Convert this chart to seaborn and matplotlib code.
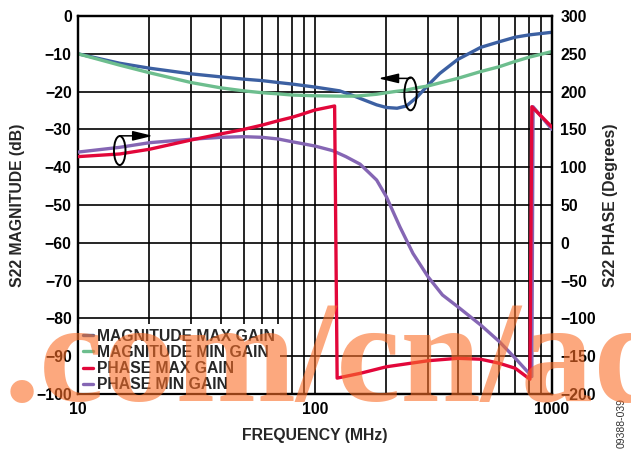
import numpy as np
import pandas as pd
import matplotlib
matplotlib.use("Agg")
import matplotlib.pyplot as plt
import seaborn as sns
from matplotlib.patches import Ellipse
from matplotlib.font_manager import FontProperties
from matplotlib.ticker import FixedLocator, FixedFormatter, NullFormatter

# ---- S22 magnitude (dB) vs frequency (MHz)
mag_freq = [10, 15, 20, 30, 40, 50, 60, 70, 80, 100, 127, 144, 155, 182, 200,
            222, 243, 269, 300, 336, 400, 500, 600, 700, 800, 1000]
mag_max_gain = [-10.0, -12.5, -13.8, -15.3, -16.1, -16.7, -17.1, -17.6, -18.0, -18.8,
                -19.8, -21.0, -21.8, -23.5, -24.2, -24.4, -23.8, -21.5, -18.3, -15.2,
                -11.5, -8.3, -6.8, -5.6, -5.0, -4.3]
mag_min_gain = [-10.0, -13.0, -15.0, -17.6, -19.0, -19.8, -20.3, -20.6, -20.9, -21.1,
                -21.2, -21.2, -21.1, -20.7, -20.3, -19.9, -19.6, -19.0, -18.5, -17.7,
                -16.5, -14.7, -13.4, -12.0, -10.9, -9.4]

# ---- S22 phase (degrees) vs frequency (MHz)
phase_max_freq = [10, 15, 20, 30, 40, 50, 60, 70, 80, 86, 100, 121, 124, 155, 200,
                  300, 400, 500, 600, 700, 807, 822, 1000]
phase_max_gain = [114, 117.5, 123.7, 136, 144, 150, 155.8, 161.5, 166, 169, 175.7, 181,
                  -179, -172.7, -164, -156, -152.8, -154, -159.4, -166, -180.5, 180, 153]
phase_min_freq = [10, 15, 20, 30, 40, 50, 60, 70, 80, 100, 119, 135, 155, 170, 182, 200,
                  228, 259, 300, 345, 400, 500, 600, 700, 800, 822, 832, 1000]
phase_min_gain = [120, 126.3, 132.4, 137, 139.5, 140.4, 139.5, 137.3, 133.7, 128, 121.8,
                  114, 104, 92, 83, 61, 21.3, -14, -45, -69, -84.5, -108.7, -130.8,
                  -152.8, -172.6, -177, 180, 150]

series_labels = ["MAGNITUDE MAX GAIN", "MAGNITUDE MIN GAIN",
                 "PHASE MAX GAIN", "PHASE MIN GAIN"]
series_colors = ["#3c60a2", "#6dbe8e", "#e2073a", "#8566b4"]

x_ticks = [10, 100, 1000]
x_tick_labels = ["10", "100", "1000"]
mag_ticks = list(range(0, -101, -10))
phase_ticks = list(range(300, -201, -50))

mag_df = pd.DataFrame({"freq": mag_freq, "max": mag_max_gain, "min": mag_min_gain})
pmax_df = pd.DataFrame({"freq": phase_max_freq, "phase": phase_max_gain})
pmin_df = pd.DataFrame({"freq": phase_min_freq, "phase": phase_min_gain})

sns.set_theme(style="white")
plt.rcParams["font.family"] = ["Liberation Sans", "DejaVu Sans"]
plt.rcParams["font.weight"] = "bold"
plt.rcParams["axes.unicode_minus"] = True

FS = 11.3
LW = 2.4

fig = plt.figure(figsize=(6.31, 4.51), dpi=100)
ax = fig.add_axes([0.1236, 0.1264, 0.7512, 0.8381])
ax2 = ax.twinx()

sns.lineplot(data=mag_df, x="freq", y="max", ax=ax, color=series_colors[0], lw=LW,
             sort=False, estimator=None, label=series_labels[0], legend=False)
sns.lineplot(data=mag_df, x="freq", y="min", ax=ax, color=series_colors[1], lw=LW,
             sort=False, estimator=None, label=series_labels[1], legend=False)
sns.lineplot(data=pmax_df, x="freq", y="phase", ax=ax2, color=series_colors[2], lw=LW,
             sort=False, estimator=None, label=series_labels[2], legend=False)
sns.lineplot(data=pmin_df, x="freq", y="phase", ax=ax2, color=series_colors[3], lw=LW,
             sort=False, estimator=None, label=series_labels[3], legend=False)

# red phase trace sits above the purple one
ax2.lines[0].set_zorder(3)
ax2.lines[1].set_zorder(2.8)

for a in (ax, ax2):
    a.set_xscale("log")
    a.set_xlim(10, 1000)
    a.set_xlabel("")
    a.set_ylabel("")
ax.set_ylim(-100, 0)
ax2.set_ylim(-200, 300)

ax.xaxis.set_major_locator(FixedLocator(x_ticks))
ax.xaxis.set_major_formatter(FixedFormatter(x_tick_labels))
minor = [m * d for d in (10, 100) for m in range(2, 10)]
ax.xaxis.set_minor_locator(FixedLocator(minor))
ax.xaxis.set_minor_formatter(NullFormatter())
ax.yaxis.set_major_locator(FixedLocator(mag_ticks))
ax2.yaxis.set_major_locator(FixedLocator(phase_ticks))

ax.grid(which="major", color="black", lw=1.2)
ax.grid(which="minor", axis="x", color="black", lw=1.2)
ax.set_axisbelow(True)

ax.tick_params(which="both", length=0, labelsize=FS, colors="black")
ax.tick_params(axis="y", pad=4.5)
ax.tick_params(axis="x", pad=6)
ax2.tick_params(which="both", length=0, labelsize=FS, colors="black", pad=6)

for a in (ax, ax2):
    for s in a.spines.values():
        s.set_color("black")
        s.set_linewidth(1.6)

ax.set_ylabel("S22 MAGNITUDE (dB)", fontsize=FS, fontweight="bold", labelpad=8)
ax2.set_ylabel("S22 PHASE (Degrees)", fontsize=FS, fontweight="bold", labelpad=5)
ax.set_xlabel("FREQUENCY (MHz)", fontsize=FS, fontweight="bold", labelpad=8)

handles = ax.lines[:2] + ax2.lines[:2]
leg = ax.legend(handles, series_labels, loc="lower left", bbox_to_anchor=(0, -0.008),
                borderaxespad=0, frameon=True, fancybox=False, framealpha=1,
                edgecolor="none", facecolor="white", handlelength=0.65,
                handletextpad=0.25, borderpad=0.3, labelspacing=0.08,
                prop=dict(weight="bold", size=FS))


def to_axes(f, db):
    """Convert (MHz, dB) to axes-fraction coordinates."""
    return (np.log10(f) - 1.0) / 2.0, (db + 100.0) / 100.0


# axis-assignment markers: ellipse round the traces with an arrow to the axis
for (fc, dbc, w, h, f0, f1, dba) in [(15.0, -35.6, 0.0243, 0.0767, 15.0, 20.7, -31.7),
                                     (253.0, -20.6, 0.026, 0.087, 252.0, 185.0, -16.5)]:
    cx, cy = to_axes(fc, dbc)
    ax2.add_patch(Ellipse((cx, cy), w, h, transform=ax2.transAxes, fill=False,
                          ec="black", lw=1.4, zorder=6))
    ax2.annotate("", xy=to_axes(f1, dba), xytext=to_axes(f0, dba),
                 xycoords="axes fraction", textcoords="axes fraction",
                 arrowprops=dict(arrowstyle="-|>,head_length=0.87,head_width=0.21",
                                 color="black", lw=1.1, mutation_scale=14,
                                 shrinkA=0, shrinkB=0), zorder=6)

wm_font = FontProperties(family=["Liberation Serif", "DejaVu Serif"], weight="bold",
                         size=104)
fig.text(0.006, 0.11, ".com/cn/ad", fontproperties=wm_font,
         color="#fa6e28", alpha=0.6, ha="left", va="baseline", zorder=10)
fig.text(0.9857, 0.062, "09388-039", rotation=90, fontsize=7.5, fontweight="normal",
         ha="center", va="center", color="#333333")

fig.savefig("out.png", dpi=100)
